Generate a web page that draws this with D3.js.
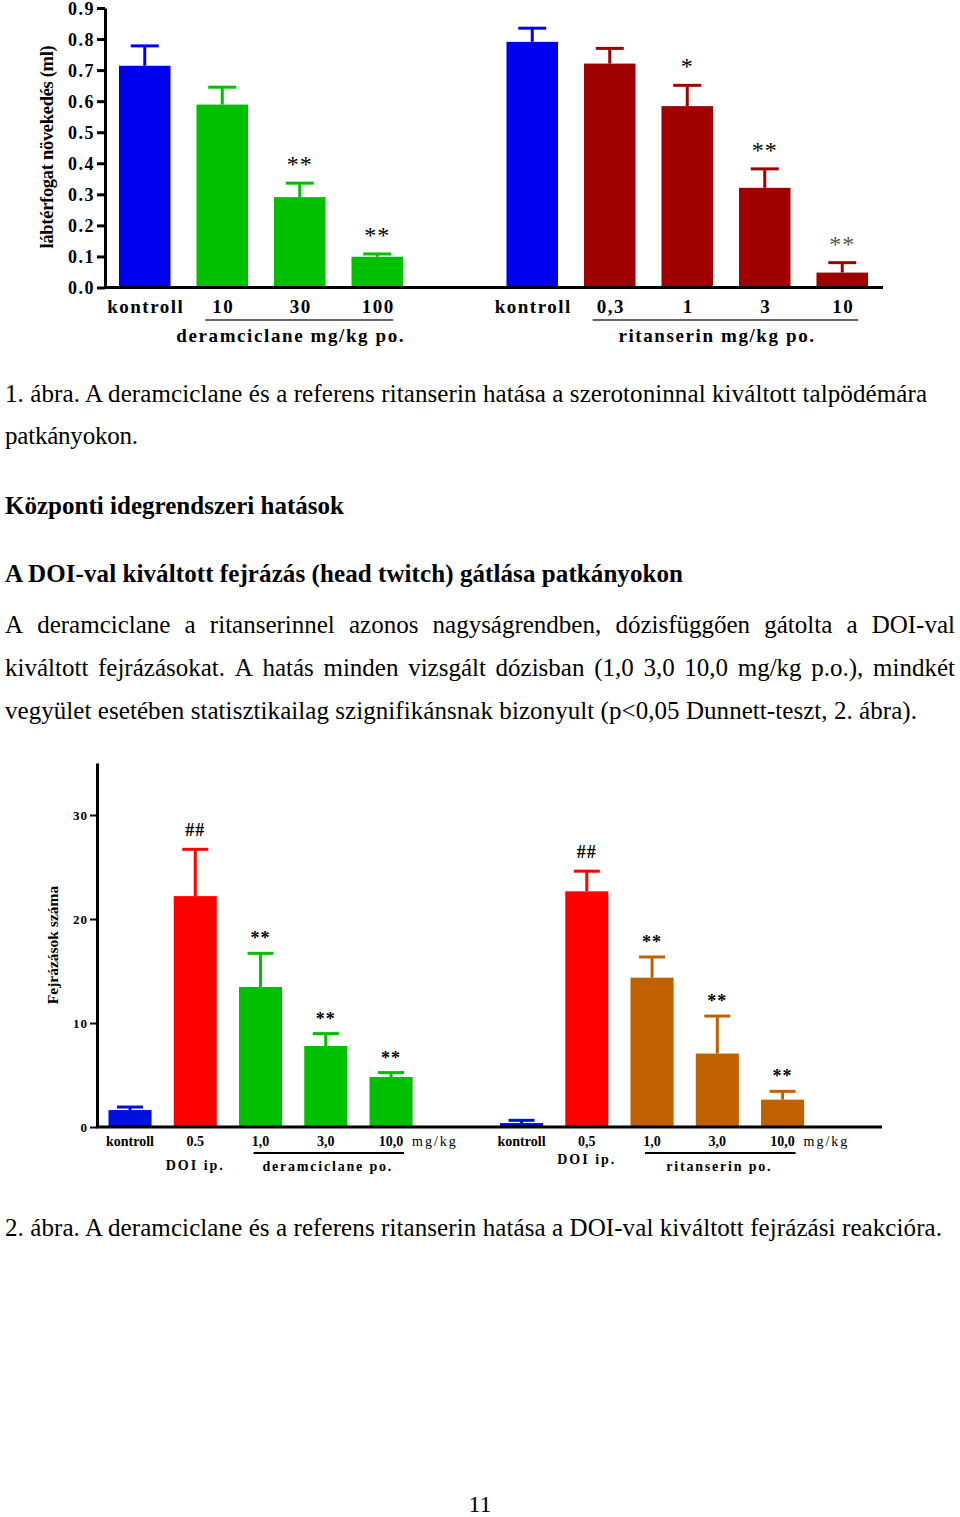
<!DOCTYPE html>
<html><head><meta charset="utf-8">
<script src="https://cdn.jsdelivr.net/npm/d3@7"></script>
<style>body{margin:0;background:#fff} svg{display:block}</style>
</head><body>
<script>
// ---------- Figure 1 data ----------
const fig1Labels = ["kontroll","10","30","100","kontroll","0,3","1","3","10"];
const fig1Treatment = ["kontroll","deramciclane","deramciclane","deramciclane","kontroll","ritanserin","ritanserin","ritanserin","ritanserin"];
const fig1Group = [0,0,0,0,1,1,1,1,1];
const fig1Means = [0.714,0.589,0.291,0.099,0.791,0.721,0.584,0.321,0.048];
const fig1SEM   = [0.064,0.056,0.045,0.009,0.044,0.049,0.067,0.061,0.032];
const fig1Sig   = ["","","**","**","","","*","**","**"];
const fig1Ticks = [0,0.1,0.2,0.3,0.4,0.5,0.6,0.7,0.8,0.9];
const fig1GroupTitles = ["deramciclane mg/kg po.","ritanserin mg/kg po."];
const fig1YTitle = "lábtérfogat növekedés (ml)";

// ---------- Figure 2 data ----------
const fig2Labels = ["kontroll","0.5","1,0","3,0","10,0","kontroll","0,5","1,0","3,0","10,0"];
const fig2Treatment = ["kontroll","DOI","deramciclane","deramciclane","deramciclane","kontroll","DOI","ritanserin","ritanserin","ritanserin"];
const fig2Group = [0,0,0,0,0,1,1,1,1,1];
const fig2Means = [1.63,22.2,13.46,7.79,4.81,0.38,22.66,14.36,7.06,2.63];
const fig2SEM   = [0.29,4.5,3.24,1.19,0.42,0.26,1.94,1.99,3.61,0.8];
const fig2Sig   = ["","##","**","**","**","","##","**","**","**"];
const fig2Ticks = [0,10,20,30];
const fig2DoiLabel = "DOI ip.";
const fig2GroupTitles = ["deramciclane po.","ritanserin po."];
const fig2Unit = "mg/kg";
const fig2YTitle = "Fejrázások száma";

// ---------- Text ----------
const caption1 = ["1. ábra. A deramciclane és a referens ritanserin hatása a szerotoninnal kiváltott talpödémára", "patkányokon."];
const heading1 = "Központi idegrendszeri hatások";
const heading2 = "A DOI-val kiváltott fejrázás (head twitch) gátlása patkányokon";
const paragraph = [
  "A deramciclane a ritanserinnel azonos nagyságrendben, dózisfüggően gátolta a DOI-val",
  "kiváltott fejrázásokat. A hatás minden vizsgált dózisban (1,0 3,0 10,0 mg/kg p.o.), mindkét",
  "vegyület esetében statisztikailag szignifikánsnak bizonyult (p<0,05 Dunnett-teszt, 2. ábra)."
];
const caption2 = "2. ábra. A deramciclane és a referens ritanserin hatása a DOI-val kiváltott fejrázási reakcióra.";
const pageNumber = "11";

const SERIF = "'Liberation Serif','Times New Roman',serif";
const W = 960, H = 1517;
const svg = d3.select("body").append("svg").attr("width", W).attr("height", H);
svg.append("rect").attr("width", W).attr("height", H).attr("fill", "#fff");

function slotDomain(groups) {
  const d = [];
  groups.forEach((g, i) => { if (i > 0 && groups[i-1] !== g) d.push("gap" + g); d.push("b" + i); });
  return d;
}

// ================= FIGURE 1 =================
(function(){
  const g = svg.append("g");
  const color = d3.scaleOrdinal().domain(["kontroll","deramciclane","ritanserin"]).range(["#0000f0","#00c000","#a00000"]);
  const x = d3.scaleBand().domain(slotDomain(fig1Group)).range([106, 881]).paddingInner(0.335).paddingOuter(0.1675);
  const y = d3.scaleLinear().domain([0, 0.9]).range([287.5, 8]);
  const data = fig1Labels.map((l, i) => ({i, label: l, t: fig1Treatment[i], m: fig1Means[i], s: fig1SEM[i], sig: fig1Sig[i], key: "b" + i}));
  const cx = d => x(d.key) + x.bandwidth()/2;

  g.selectAll("rect.bar").data(data).join("rect").attr("class","bar")
    .attr("x", d => x(d.key)).attr("width", x.bandwidth())
    .attr("y", d => y(d.m)).attr("height", d => y(0) - y(d.m))
    .attr("fill", d => color(d.t));
  g.selectAll("line.err").data(data).join("line").attr("class","err")
    .attr("x1", cx).attr("x2", cx).attr("y1", d => y(d.m)).attr("y2", d => y(d.m + d.s))
    .attr("stroke", d => color(d.t)).attr("stroke-width", 3);
  g.selectAll("line.cap").data(data).join("line").attr("class","cap")
    .attr("x1", d => cx(d) - 14).attr("x2", d => cx(d) + 14)
    .attr("y1", d => y(d.m + d.s)).attr("y2", d => y(d.m + d.s))
    .attr("stroke", d => color(d.t)).attr("stroke-width", 3);
  g.selectAll("text.sig").data(data.filter(d => d.sig)).join("text").attr("class","sig")
    .attr("x", cx).attr("y", d => y(d.m + d.s) - 11).attr("text-anchor","middle")
    .style("font-family", SERIF).style("font-size","24px").style("letter-spacing","1px")
    .attr("fill", d => d.i === data.length - 1 ? "#555" : "#000")
    .text(d => d.sig);

  // axes
  const ax = g.append("g").attr("transform", "translate(105,0)")
    .call(d3.axisLeft(y).tickValues(fig1Ticks).tickFormat(d3.format(".1f")).tickSize(8).tickSizeOuter(0).tickPadding(2));
  ax.select(".domain").attr("stroke","#000").attr("stroke-width",3);
  ax.selectAll(".tick line").attr("stroke","#000").attr("stroke-width",3);
  ax.selectAll(".tick text").style("font-family", SERIF).style("font-weight","bold").style("font-size","18px")
    .style("letter-spacing","1.5px").attr("fill","#000").attr("dy","0.35em");
  g.append("line").attr("x1",104).attr("x2",883).attr("y1",y(0)).attr("y2",y(0)).attr("stroke","#000").attr("stroke-width",3);

  g.selectAll("text.xl").data(data).join("text").attr("class","xl")
    .attr("x", d => cx(d) + 1).attr("y", 313).attr("text-anchor","middle")
    .style("font-family", SERIF).style("font-weight","bold").style("font-size","19px").style("letter-spacing","1.5px")
    .text(d => d.label);

  [0,1].forEach(gi => {
    const members = data.filter(d => fig1Group[d.i] === gi && d.t !== "kontroll");
    const x0 = cx(members[0]), x1 = cx(members[members.length-1]);
    g.append("line").attr("x1", x0 - 17).attr("x2", x1 + 16).attr("y1", 320).attr("y2", 320)
      .attr("stroke","#333").attr("stroke-width",1.5);
    g.append("text").attr("x", (x0 + x1)/2 - 9).attr("y", 342).attr("text-anchor","middle")
      .style("font-family", SERIF).style("font-weight","bold").style("font-size","19px").style("letter-spacing","1.6px")
      .text(fig1GroupTitles[gi]);
  });

  g.append("text").attr("transform","translate(53,147) rotate(-90)").attr("text-anchor","middle")
    .style("font-family", SERIF).style("font-weight","bold").style("font-size","18.5px").style("letter-spacing","-0.3px")
    .text(fig1YTitle);
})();

// ================= TEXT =================
function plain(str, x, y, bold, width) {
  const t = svg.append("text").attr("x", x).attr("y", y)
    .style("font-family", SERIF).style("font-size","25px").style("font-weight", bold ? "bold" : "normal")
    .text(str);
  if (width) t.attr("textLength", width).attr("lengthAdjust", "spacing");
  return t;
}
function justified(str, x0, x1, y) {
  const words = str.split(" ");
  const nodes = words.map(w => svg.append("text").attr("y", y)
    .style("font-family", SERIF).style("font-size","25px").text(w));
  const widths = nodes.map(n => n.node().getComputedTextLength());
  const gap = (x1 - x0 - d3.sum(widths)) / (words.length - 1);
  let xx = x0;
  nodes.forEach((n, i) => { n.attr("x", xx); xx += widths[i] + gap; });
}
plain(caption1[0], 5, 402, false, 922);
plain(caption1[1], 5, 444, false, 133);
plain(heading1, 5, 514, true, 339);
plain(heading2, 5, 582, true, 678);
justified(paragraph[0], 5, 955, 633);
justified(paragraph[1], 5, 955, 676);
plain(paragraph[2], 5, 719, false, 912);
plain(caption2, 5, 1236, false, 937);
svg.append("text").attr("x", 480).attr("y", 1512).attr("text-anchor","middle")
  .style("font-family", SERIF).style("font-size","24px").text(pageNumber);

// ================= FIGURE 2 =================
(function(){
  const g = svg.append("g");
  const color = d3.scaleOrdinal().domain(["kontroll","DOI","deramciclane","ritanserin"]).range(["#0010e0","#ff0000","#00c000","#c06000"]);
  const x = d3.scaleBand().domain(slotDomain(fig2Group)).range([97.4, 815.2]).paddingInner(0.34).paddingOuter(0.17);
  const y = d3.scaleLinear().domain([0, 35]).range([1127, 763]);
  const data = fig2Labels.map((l, i) => ({i, label: l, t: fig2Treatment[i], m: fig2Means[i], s: fig2SEM[i], sig: fig2Sig[i], key: "b" + i}));
  const cx = d => x(d.key) + x.bandwidth()/2;

  g.selectAll("rect.bar").data(data).join("rect").attr("class","bar")
    .attr("x", d => x(d.key)).attr("width", x.bandwidth())
    .attr("y", d => y(d.m)).attr("height", d => y(0) - y(d.m))
    .attr("fill", d => color(d.t));
  g.selectAll("line.err").data(data).join("line").attr("class","err")
    .attr("x1", cx).attr("x2", cx).attr("y1", d => y(d.m)).attr("y2", d => y(d.m + d.s))
    .attr("stroke", d => color(d.t)).attr("stroke-width", 3);
  g.selectAll("line.cap").data(data).join("line").attr("class","cap")
    .attr("x1", d => cx(d) - 13).attr("x2", d => cx(d) + 13)
    .attr("y1", d => y(d.m + d.s)).attr("y2", d => y(d.m + d.s))
    .attr("stroke", d => color(d.t)).attr("stroke-width", 3);
  g.selectAll("text.sig").data(data.filter(d => d.sig)).join("text").attr("class","sig")
    .attr("x", cx).attr("y", d => y(d.m + d.s) - (d.sig[0] === "#" ? 13 : 9)).attr("text-anchor","middle")
    .style("font-family", SERIF).style("font-weight","bold").style("font-size","18px").style("letter-spacing","1px")
    .text(d => d.sig);

  const ax = g.append("g").attr("transform", "translate(97,0)")
    .call(d3.axisLeft(y).tickValues(fig2Ticks).tickFormat(d3.format("d")).tickSize(7).tickSizeOuter(0).tickPadding(2));
  ax.select(".domain").attr("stroke","#000").attr("stroke-width",3);
  ax.selectAll(".tick line").attr("stroke","#000").attr("stroke-width",2);
  ax.selectAll(".tick text").style("font-family", SERIF).style("font-weight","bold").style("font-size","13px")
    .style("letter-spacing","1px").attr("fill","#000").attr("dy","0.35em");
  g.append("line").attr("x1",96).attr("x2",882).attr("y1",y(0)).attr("y2",y(0)).attr("stroke","#000").attr("stroke-width",3);

  g.selectAll("text.xl").data(data).join("text").attr("class","xl")
    .attr("x", cx).attr("y", 1146).attr("text-anchor","middle")
    .style("font-family", SERIF).style("font-weight","bold").style("font-size","14px")
    .text(d => d.label);

  [0,1].forEach(gi => {
    const doi = data.find(d => fig2Group[d.i] === gi && d.t === "DOI");
    g.append("text").attr("x", cx(doi)).attr("y", gi === 0 ? 1170 : 1164).attr("text-anchor","middle")
      .style("font-family", SERIF).style("font-weight","bold").style("font-size","14px").style("letter-spacing","2px")
      .text(fig2DoiLabel);
    const members = data.filter(d => fig2Group[d.i] === gi && d.t !== "kontroll" && d.t !== "DOI");
    const x0 = cx(members[0]), x1 = cx(members[members.length-1]);
    g.append("line").attr("x1", x0 - 7).attr("x2", x1 + 13).attr("y1", 1153).attr("y2", 1153)
      .attr("stroke","#000").attr("stroke-width",2);
    g.append("text").attr("x", (x0 + x1)/2 + 2).attr("y", 1171).attr("text-anchor","middle")
      .style("font-family", SERIF).style("font-weight","bold").style("font-size","14px").style("letter-spacing","1.8px")
      .text(fig2GroupTitles[gi]);
    g.append("text").attr("x", x1 + 21).attr("y", 1146)
      .style("font-family", SERIF).style("font-size","14px").style("letter-spacing","2px")
      .text(fig2Unit);
  });

  g.append("text").attr("transform","translate(58,945) rotate(-90)").attr("text-anchor","middle")
    .style("font-family", SERIF).style("font-weight","bold").style("font-size","15.5px")
    .text(fig2YTitle);
})();
</script>
</body></html>
